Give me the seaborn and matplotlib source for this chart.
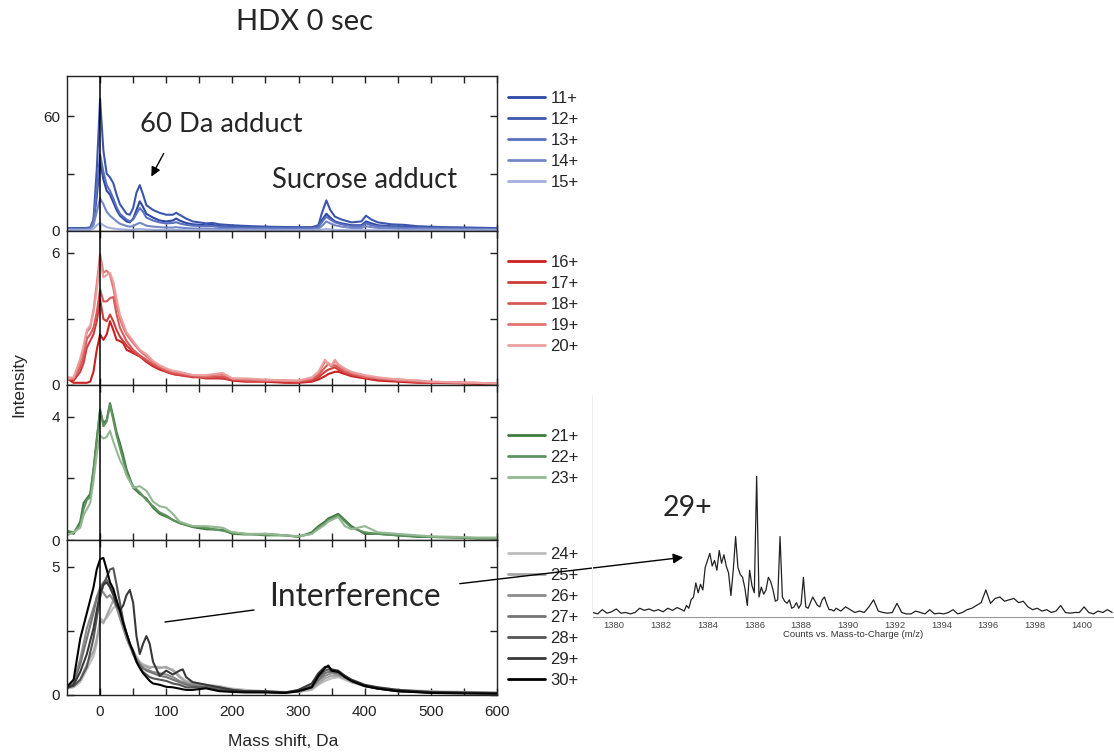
import matplotlib
matplotlib.use("Agg")
import matplotlib.pyplot as plt
import seaborn as sns
from matplotlib.lines import Line2D
from matplotlib.patches import FancyArrowPatch

# ---- data ----
# panel 1 (11+ .. 15+)
mass_blue = [-50, -25, -15, -10, -5, 0, 5, 10, 15, 20, 25, 30, 40, 45, 50, 55, 60, 65, 70, 80,
             90, 100, 110, 115, 120, 130, 140, 160, 170, 180, 200, 230, 260, 290, 320, 330, 335,
             342, 348, 355, 365, 380, 395, 402, 410, 420, 440, 460, 480, 520, 560, 600]
int_11 = [1.5, 1.5, 1.6, 4, 18, 36.5, 27, 21, 19, 15, 11, 8, 5, 4.5, 6.5, 11, 15.5, 12.5, 9, 7,
          5.5, 5, 5.5, 6.5, 5.5, 4.2, 3.5, 3, 3.2, 2.6, 2.2, 2, 1.8, 1.7, 1.7, 2.5, 5.5,
          9, 7, 5, 4, 3, 3, 5, 4, 3, 2.5, 2.3, 2, 1.7, 1.5, 1.3]
int_12 = [1.5, 1.5, 1.8, 6, 32, 69, 42, 30, 28, 25, 19, 14, 9, 8.5, 12, 20, 24, 19, 13.5, 11,
          9.5, 8.5, 8.5, 9.5, 8.5, 6.5, 5, 4, 4.2, 3.5, 3, 2.5, 2.2, 2, 2, 3, 9,
          16, 11, 7.5, 6, 4.5, 5, 8, 6, 4.5, 3.5, 3.2, 2.5, 2, 1.8, 1.5]
int_13 = [1.2, 1.2, 1.4, 5, 22, 40, 31, 24, 21, 17, 12.5, 9, 6, 5, 6, 9, 12, 10, 7, 5.5,
          4.5, 4, 4.2, 4.6, 4, 3.2, 2.8, 2.5, 2.6, 2.1, 1.8, 1.6, 1.5, 1.4, 1.4, 2, 4.5,
          7.5, 6, 4.5, 3.5, 2.5, 2.5, 4, 3, 2.5, 2, 1.8, 1.6, 1.4, 1.2, 1.0]
int_14 = [0.8, 0.8, 1.0, 3, 10, 17, 14, 10, 8, 6.5, 5, 3.8, 2.6, 2.3, 2.6, 3.5, 4.3, 3.6, 2.8, 2.3,
          2, 1.8, 1.8, 2, 1.8, 1.5, 1.3, 1.2, 1.2, 1.1, 1, 0.9, 0.8, 0.8, 0.8, 1.1, 2.5,
          5, 4, 3, 2.3, 1.6, 1.6, 2.5, 2, 1.6, 1.3, 1.1, 1, 0.9, 0.8, 0.7]
int_15 = [0.4, 0.4, 0.5, 1.2, 3, 4.3, 3, 2, 1.6, 1.3, 1.1, 0.9, 0.7, 0.6, 0.7, 0.9, 1.0, 0.9, 0.7, 0.6,
          0.5, 0.5, 0.5, 0.5, 0.5, 0.4, 0.4, 0.4, 0.4, 0.3, 0.3, 0.3, 0.3, 0.3, 0.3, 0.4, 0.7,
          1.0, 0.8, 0.6, 0.5, 0.4, 0.4, 0.5, 0.4, 0.4, 0.3, 0.3, 0.3, 0.3, 0.3, 0.3]

# panels 2 and 3 (16+ .. 23+)
mass_mid = [-50, -40, -30, -25, -20, -15, -10, -5, 0, 5, 10, 15, 20, 25, 30, 35, 40, 50, 60, 70,
            80, 90, 100, 110, 120, 140, 160, 185, 200, 220, 250, 280, 300, 320, 330, 340, 345,
            350, 355, 360, 370, 380, 400, 420, 450, 480, 500, 540, 570, 600]
int_16 = [0.3, 0.1, 0.1, 0.1, 0.1, 0.15, 0.6, 1.6, 2.3, 2.05, 2.3, 2.9, 2.5, 2.05, 2.0, 1.9, 1.6, 1.45, 1.3, 1.05,
          0.85, 0.7, 0.6, 0.5, 0.45, 0.4, 0.3, 0.3, 0.2, 0.15, 0.15, 0.1, 0.1, 0.15, 0.25, 0.4, 0.5,
          0.55, 0.6, 0.6, 0.5, 0.4, 0.3, 0.2, 0.15, 0.1, 0.1, 0.08, 0.05, 0.03]
int_17 = [0.3, 0.2, 0.6, 1.0, 1.7, 2.0, 2.3, 2.9, 3.9, 3.0, 2.9, 3.2, 2.9, 2.5, 2.2, 2.0, 1.8, 1.5, 1.3, 1.1,
          0.9, 0.75, 0.6, 0.5, 0.45, 0.35, 0.35, 0.3, 0.25, 0.2, 0.2, 0.15, 0.15, 0.2, 0.35, 0.6, 0.7,
          0.75, 0.8, 0.7, 0.55, 0.45, 0.35, 0.25, 0.2, 0.15, 0.12, 0.1, 0.08, 0.05]
int_18 = [0.35, 0.3, 0.8, 1.3, 2.1, 2.3, 2.6, 3.3, 4.35, 3.8, 3.8, 3.95, 4.0, 3.2, 2.6, 2.3, 2.0, 1.6, 1.35, 1.15,
          0.95, 0.8, 0.65, 0.55, 0.5, 0.4, 0.35, 0.4, 0.25, 0.2, 0.2, 0.2, 0.15, 0.25, 0.45, 0.8, 0.95,
          0.85, 0.9, 0.8, 0.6, 0.5, 0.35, 0.3, 0.2, 0.15, 0.12, 0.1, 0.08, 0.05]
int_19 = [0.25, 0.3, 1.0, 1.6, 2.4, 2.6, 3.4, 4.6, 5.95, 5.1, 5.2, 5.0, 4.4, 3.6, 3.0, 2.6, 2.3, 1.9, 1.55, 1.3,
          1.05, 0.85, 0.7, 0.6, 0.55, 0.45, 0.4, 0.5, 0.3, 0.25, 0.2, 0.2, 0.2, 0.3, 0.55, 1.05, 1.0,
          0.85, 1.1, 0.9, 0.7, 0.55, 0.4, 0.3, 0.25, 0.2, 0.15, 0.12, 0.1, 0.06]
int_20 = [0.3, 0.35, 1.2, 1.8, 2.5, 2.7, 3.3, 4.3, 5.6, 4.9, 5.0, 5.1, 4.7, 3.9, 3.2, 2.8, 2.4, 2.0, 1.6, 1.4,
          1.1, 0.9, 0.75, 0.65, 0.6, 0.45, 0.45, 0.55, 0.3, 0.3, 0.25, 0.2, 0.2, 0.35, 0.6, 1.15, 0.95,
          0.9, 1.15, 0.95, 0.75, 0.6, 0.45, 0.35, 0.25, 0.2, 0.15, 0.12, 0.1, 0.06]
int_21 = [0.27, 0.2, 0.6, 1.2, 1.35, 1.5, 2.3, 3.3, 4.2, 3.8, 3.9, 4.45, 4.0, 3.5, 3.15, 2.75, 2.3, 1.7, 1.5, 1.35,
          1.05, 0.85, 0.76, 0.65, 0.55, 0.42, 0.35, 0.33, 0.2, 0.18, 0.2, 0.15, 0.1, 0.25, 0.45, 0.6, 0.7,
          0.75, 0.8, 0.85, 0.65, 0.45, 0.2, 0.2, 0.15, 0.1, 0.1, 0.08, 0.05, 0.05]
int_22 = [0.3, 0.25, 0.5, 1.0, 1.3, 1.4, 2.2, 3.2, 4.25, 3.7, 3.85, 4.4, 3.9, 3.4, 3.0, 2.6, 2.2, 1.75, 1.55, 1.3,
          1.1, 0.9, 0.8, 0.65, 0.55, 0.45, 0.4, 0.3, 0.25, 0.2, 0.15, 0.15, 0.12, 0.2, 0.4, 0.55, 0.65,
          0.7, 0.75, 0.8, 0.6, 0.4, 0.25, 0.2, 0.15, 0.12, 0.1, 0.08, 0.06, 0.05]
int_23 = [0.15, 0.25, 0.4, 0.8, 1.0, 1.2, 1.9, 2.8, 3.4, 3.3, 3.35, 3.55, 3.2, 2.9, 2.6, 2.4, 2.1, 1.7, 1.75, 1.6,
          1.25, 1.1, 1.05, 0.85, 0.6, 0.45, 0.45, 0.4, 0.25, 0.2, 0.2, 0.15, 0.12, 0.2, 0.35, 0.5, 0.6,
          0.65, 0.7, 0.75, 0.45, 0.35, 0.45, 0.25, 0.2, 0.15, 0.12, 0.1, 0.08, 0.08]

# panel 4 (24+ .. 30+)
mass_gray = [-50, -40, -30, -20, -10, -5, 0, 5, 10, 15, 20, 25, 30, 35, 40, 45, 50, 55, 60, 65,
             70, 75, 80, 90, 100, 110, 120, 125, 130, 140, 160, 180, 200, 220, 250, 280, 300,
             320, 330, 340, 345, 350, 360, 370, 380, 400, 420, 450, 500, 550, 600]
int_24 = [0.25, 0.3, 0.5, 1.0, 1.5, 2.0, 3.0, 2.9, 3.0, 3.2, 3.4, 3.5, 3.2, 2.8, 2.4, 2.0, 1.75, 1.5, 1.3, 1.2,
          1.15, 1.1, 1.1, 1.1, 1.05, 1.0, 0.75, 0.65, 0.55, 0.5, 0.4, 0.35, 0.25, 0.2, 0.15, 0.12, 0.12,
          0.2, 0.4, 0.55, 0.6, 0.65, 0.7, 0.6, 0.5, 0.35, 0.3, 0.2, 0.15, 0.12, 0.1]
int_25 = [0.3, 0.35, 0.6, 1.2, 1.7, 2.2, 2.9, 2.8, 3.1, 3.4, 3.7, 3.6, 3.1, 2.7, 2.3, 2.0, 1.7, 1.45, 1.25, 1.15,
          1.1, 1.05, 1.1, 1.05, 1.1, 0.95, 0.7, 0.6, 0.5, 0.45, 0.35, 0.3, 0.2, 0.15, 0.12, 0.1, 0.12,
          0.25, 0.45, 0.65, 0.7, 0.75, 0.75, 0.65, 0.5, 0.35, 0.25, 0.15, 0.12, 0.1, 0.08]
int_26 = [0.35, 0.5, 1.4, 2.6, 3.4, 3.8, 4.1, 4.0, 3.8, 3.9, 3.7, 3.4, 3.0, 2.6, 2.2, 1.9, 1.6, 1.35, 1.15, 1.05,
          1.0, 0.95, 0.9, 0.85, 0.8, 0.7, 0.55, 0.5, 0.45, 0.4, 0.3, 0.3, 0.2, 0.15, 0.12, 0.1, 0.15,
          0.3, 0.55, 0.75, 0.8, 0.85, 0.8, 0.7, 0.55, 0.35, 0.25, 0.15, 0.1, 0.08, 0.06]
int_27 = [0.3, 0.45, 1.2, 2.2, 3.2, 3.8, 4.2, 4.4, 4.5, 4.3, 4.0, 3.6, 3.2, 2.8, 2.4, 2.0, 1.7, 1.4, 1.2, 1.05,
          0.95, 0.9, 0.85, 0.75, 0.7, 0.6, 0.5, 0.45, 0.4, 0.35, 0.3, 0.25, 0.15, 0.15, 0.12, 0.1, 0.15,
          0.3, 0.6, 0.85, 0.9, 0.9, 0.85, 0.7, 0.55, 0.35, 0.25, 0.15, 0.1, 0.08, 0.06]
int_28 = [0.3, 0.35, 0.6, 1.1, 2.2, 3.0, 3.8, 4.3, 4.6, 4.9, 4.95, 4.3, 3.6, 2.9, 2.4, 2.0, 1.6, 1.3, 1.1, 0.9,
          0.8, 0.7, 0.65, 0.6, 0.55, 0.45, 0.4, 0.35, 0.3, 0.3, 0.3, 0.2, 0.15, 0.15, 0.12, 0.1, 0.15,
          0.35, 0.7, 0.95, 1.0, 0.95, 0.9, 0.75, 0.55, 0.35, 0.25, 0.15, 0.1, 0.08, 0.06]
int_29 = [0.26, 0.4, 0.9, 1.6, 2.6, 3.3, 4.0, 4.3, 4.4, 4.2, 3.9, 3.5, 3.3, 3.5, 3.9, 4.1, 3.6, 2.3, 1.6, 2.0,
          2.3, 2.0, 1.3, 0.75, 0.95, 0.8, 0.95, 1.0, 0.7, 0.5, 0.4, 0.3, 0.2, 0.15, 0.15, 0.1, 0.2,
          0.45, 0.85, 1.1, 1.1, 1.0, 0.95, 0.75, 0.6, 0.4, 0.3, 0.2, 0.12, 0.1, 0.08]
int_30 = [0.32, 0.6, 2.2, 3.2, 4.2, 4.9, 5.3, 5.35, 4.9, 4.4, 4.15, 3.7, 3.3, 2.8, 2.4, 2.0, 1.7, 1.3, 1.05, 0.85,
          0.7, 0.55, 0.45, 0.4, 0.32, 0.3, 0.25, 0.22, 0.2, 0.2, 0.26, 0.15, 0.12, 0.1, 0.1, 0.08, 0.15,
          0.3, 0.75, 1.05, 1.15, 0.95, 0.9, 0.7, 0.55, 0.35, 0.25, 0.15, 0.08, 0.06, 0.05]

# raw 29+ spectrum (m/z, counts in % of the tallest peak)
spec_mz = [1379.1, 1379.3, 1379.5, 1379.7, 1379.9, 1380.1, 1380.3, 1380.5, 1380.7, 1380.9,
           1381.1, 1381.3, 1381.5, 1381.7, 1381.9, 1382.1, 1382.3, 1382.5, 1382.7, 1382.9,
           1383.0, 1383.1, 1383.2, 1383.3, 1383.4, 1383.5, 1383.6, 1383.7, 1383.8, 1383.9,
           1384.0, 1384.1, 1384.2, 1384.3, 1384.4, 1384.5, 1384.6, 1384.7, 1384.8, 1384.9,
           1385.0, 1385.1, 1385.2, 1385.3, 1385.4, 1385.5, 1385.6, 1385.7, 1385.8, 1385.9,
           1386.0, 1386.1, 1386.2, 1386.3, 1386.4, 1386.5, 1386.6, 1386.7, 1386.8, 1386.9,
           1387.0, 1387.1, 1387.2, 1387.3, 1387.4, 1387.5, 1387.6, 1387.7, 1387.8, 1387.9,
           1388.0, 1388.1, 1388.2, 1388.3, 1388.4, 1388.5, 1388.6, 1388.7, 1388.8, 1388.9,
           1389.0, 1389.1, 1389.2, 1389.3, 1389.4, 1389.5,
           1389.7, 1389.9, 1390.1, 1390.3, 1390.5, 1390.7, 1390.9, 1391.1, 1391.3, 1391.5,
           1391.7, 1391.9, 1392.1, 1392.3, 1392.5, 1392.7, 1392.9, 1393.1, 1393.3, 1393.5,
           1393.7, 1393.9, 1394.1, 1394.3, 1394.5, 1394.7, 1394.9, 1395.1, 1395.3, 1395.5,
           1395.7, 1395.9, 1396.1, 1396.3, 1396.5, 1396.7, 1396.9, 1397.1, 1397.3, 1397.5,
           1397.7, 1397.9, 1398.1, 1398.3, 1398.5, 1398.7, 1398.9, 1399.1, 1399.3, 1399.5,
           1399.7, 1399.9, 1400.1, 1400.3, 1400.5, 1400.7, 1400.9, 1401.1, 1401.3]
spec_counts = [3, 2, 5, 2.5, 3.5, 5.5, 2.5, 3, 2, 3,
               6, 4.5, 5.5, 4, 5, 3.5, 6, 4.5, 6.5, 5,
               4, 8, 6, 12, 14, 24, 17, 23, 19, 35,
               40, 45, 36, 40, 33, 47, 38, 44, 36, 31,
               15, 33, 57, 35, 30, 28, 20, 8, 33, 22,
               17, 100, 14, 21, 16, 19, 28, 25, 19, 11,
               12, 57, 14, 11, 9.5, 12, 6, 7, 10, 6,
               9, 28, 7, 6, 10, 14, 11, 8, 7, 12,
               14, 9, 5, 5, 4, 6,
               4, 7, 5, 3, 4, 3, 7, 12, 4, 3,
               2.5, 3, 9.5, 3, 2, 2, 4, 3, 2, 5,
               2, 2.5, 2, 3, 5, 2, 3, 5, 6, 8,
               10, 19, 9.5, 13, 14, 11, 12, 13, 10, 11,
               7, 5, 6, 4, 5, 3, 4, 8, 3, 2.5,
               3, 3, 7, 3, 2, 4, 3, 5, 3]

labels_blue = ['11+', '12+', '13+', '14+', '15+']
labels_red = ['16+', '17+', '18+', '19+', '20+']
labels_green = ['21+', '22+', '23+']
labels_gray = ['24+', '25+', '26+', '27+', '28+', '29+', '30+']
colors_blue = ['#2d47a4', '#3c56ad', '#5a70bd', '#7587c8', '#a3b0de']
colors_red = ['#cc2020', '#cf3a3a', '#d85858', '#e07474', '#eba0a0']
colors_green = ['#3f7a3f', '#5f925f', '#93b893']
colors_gray = ['#bdbdbd', '#a5a5a5', '#8c8c8c', '#747474', '#555555', '#383838', '#000000']

# ---- figure ----
sns.set_theme(style="ticks")
plt.rcParams['font.family'] = ['Liberation Sans', 'DejaVu Sans']

W, H = 1114, 754
fig = plt.figure(figsize=(W / 100, H / 100), dpi=100)


def box(l, t, r, b):
    return [l / W, 1 - b / H, (r - l) / W, (b - t) / H]


def fpos(x, y):
    return (x / W, 1 - y / H)


panels = [
    (mass_blue, [int_11, int_12, int_13, int_14, int_15], labels_blue, colors_blue,
     (76, 231), 81, [0, 30, 60], ['0', '', '60'], 0.903),
    (mass_mid, [int_16, int_17, int_18, int_19, int_20], labels_red, colors_red,
     (231, 385), 7.0, [0, 3, 6], ['0', '', '6'], 0.845),
    (mass_mid, [int_21, int_22, int_23], labels_green, colors_green,
     (385, 540), 5.04, [0, 2, 4], ['0', '', '4'], 0.717),
    (mass_gray, [int_24, int_25, int_26, int_27, int_28, int_29, int_30], labels_gray, colors_gray,
     (540, 695), 6.05, [0, 2.5, 5], ['0', '', '5'], 0.955),
]

xt = list(range(0, 601, 50))
xt_lab = [str(v) if v % 100 == 0 else '' for v in xt]

for i, (xs, ys, labs, cols, (top, bot), ymax, yt, yt_lab, leg_y) in enumerate(panels):
    ax = fig.add_axes(box(67, top, 497, bot))
    for vals, col in zip(ys, cols):
        sns.lineplot(x=xs, y=vals, color=col, lw=1.5, ax=ax, sort=False,
                     errorbar=None, legend=False)
    ax.axvline(0, color='black', lw=1.1, zorder=5)
    ax.set_xlim(-50, 600)
    ax.set_ylim(0, ymax)
    ax.set_xticks(xt)
    ax.set_yticks(yt)
    ax.set_yticklabels(yt_lab)
    if i == 3:
        ax.set_xticklabels(xt_lab)
    else:
        ax.set_xticklabels([])
    ax.tick_params(direction='in', top=True, right=True, length=5, width=1,
                   labelsize=11, colors='#222222')
    ax.tick_params(axis='x', pad=7)
    ax.tick_params(axis='y', pad=5)
    for sp in ax.spines.values():
        sp.set_visible(True)
        sp.set_linewidth(1.0)
        sp.set_color('#222222')
    ax.set_xlabel('')
    ax.set_ylabel('')
    handles = [Line2D([], [], color=c, lw=2, label=l) for c, l in zip(cols, labs)]
    ax.legend(handles=handles, loc='upper left', bbox_to_anchor=(1.0256, leg_y),
              frameon=False, fontsize=12, handlelength=2.2, handletextpad=0.35,
              labelspacing=0.36, borderpad=0, borderaxespad=0)

fig.text(*fpos(19, 385), 'Intensity', rotation=90, ha='center', va='center', fontsize=12.5)
fig.text(*fpos(283, 742), 'Mass shift, Da', ha='center', va='center', fontsize=12.5)

# ---- 29+ raw spectrum ----
axs = fig.add_axes(box(592.7, 476, 1114, 616.7))
sns.lineplot(x=spec_mz, y=spec_counts, color='#222222', lw=0.9, ax=axs, sort=False,
             errorbar=None, legend=False)
axs.patch.set_alpha(0)
axs.set_xlim(1379.09, 1401.38)
axs.set_ylim(0, 100)
axs.set_yticks([])
axs.set_xticks(list(range(1380, 1401, 2)))
axs.tick_params(axis='x', length=0, pad=3, labelsize=6.8, colors='#444444')
for s in ['left', 'top', 'right']:
    axs.spines[s].set_visible(False)
axs.spines['bottom'].set_color('#999999')
axs.spines['bottom'].set_linewidth(0.8)
axs.set_xlabel('Counts vs. Mass-to-Charge (m/z)', fontsize=6.8, color='#333333', labelpad=0)
axs.set_ylabel('')

# faint frame edge of the pasted spectrum
fig.add_artist(Line2D([592 / W, 592 / W], [1 - 395 / H, 1 - 612 / H], color='#eeeeee', lw=0.8))

# ---- annotations ----
big = ['Lato', 'DejaVu Sans']
fig.text(*fpos(305, 22), 'HDX 0 sec', ha='center', va='center', fontsize=21, family=big)
fig.text(*fpos(221, 125), '60 Da adduct', ha='center', va='center', fontsize=19.7, family=big)
fig.text(*fpos(365, 180), 'Sucrose adduct', ha='center', va='center', fontsize=19.8, family=big)
fig.text(*fpos(355, 597), 'Interference', ha='center', va='center', fontsize=22.8, family=big)
fig.text(*fpos(687, 508), '29+', ha='center', va='center', fontsize=20.5, family=big)

fig.add_artist(FancyArrowPatch(fpos(165, 151), fpos(150, 179), transform=fig.transFigure,
                               arrowstyle='-|>', mutation_scale=14, color='black', lw=1))
fig.add_artist(Line2D([165 / W, 254 / W], [1 - 622 / H, 1 - 610 / H], color='black', lw=1))
fig.add_artist(FancyArrowPatch(fpos(457, 584), fpos(686, 557), transform=fig.transFigure,
                               arrowstyle='-|>', mutation_scale=15, color='black', lw=1))

fig.savefig('out.png', dpi=100)
